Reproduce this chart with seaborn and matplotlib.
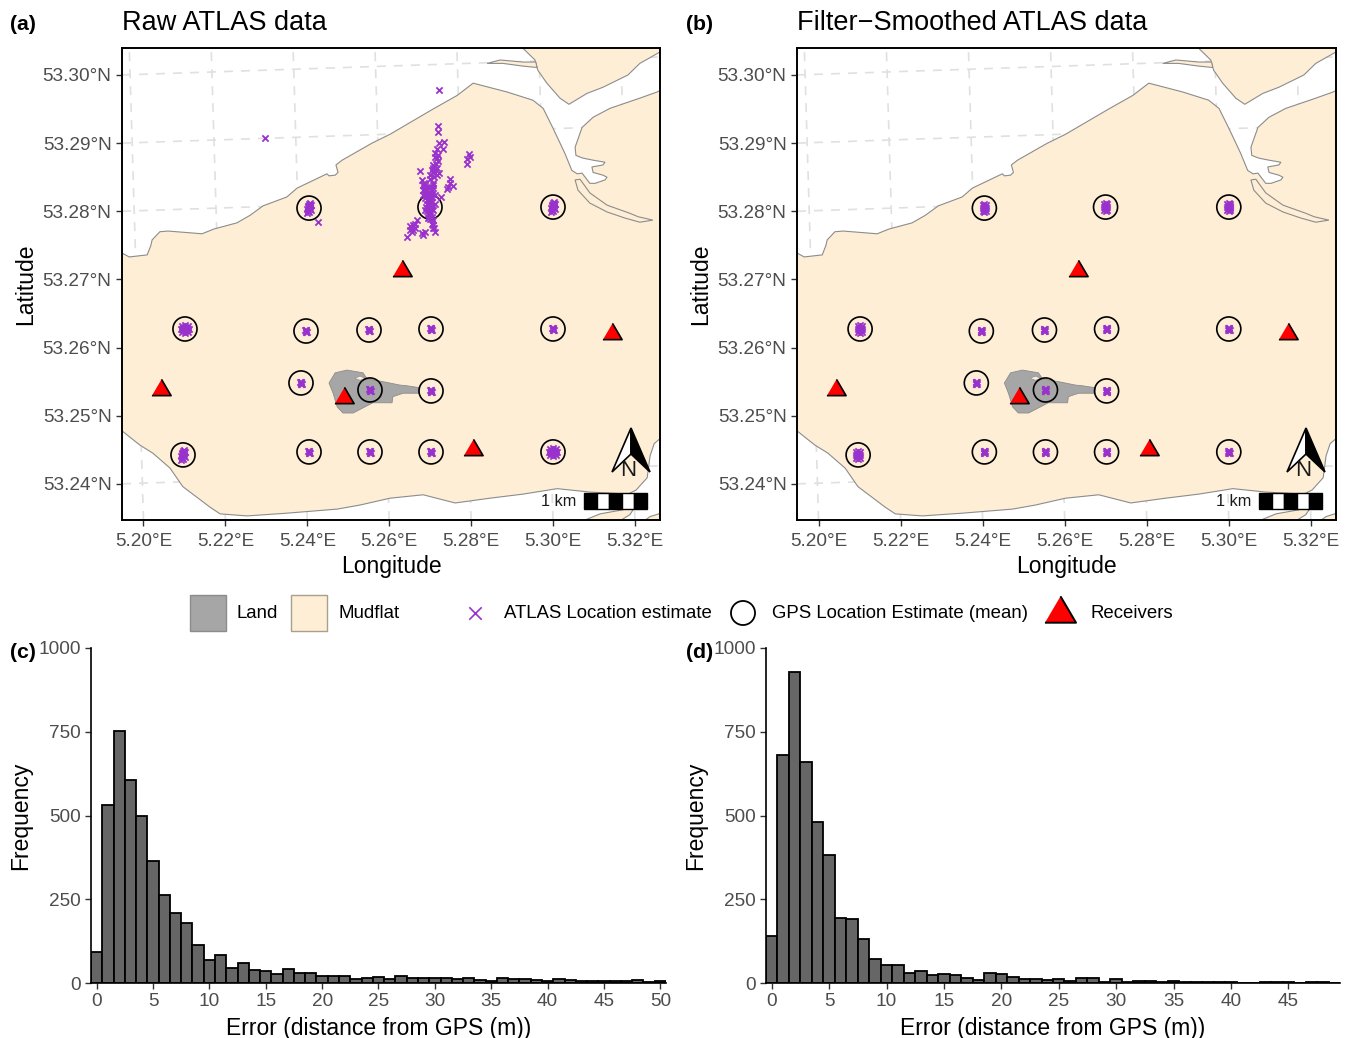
import matplotlib
matplotlib.use("Agg")
import matplotlib.pyplot as plt
from matplotlib.patches import Rectangle
import numpy as np
import seaborn as sns

# map outlines (lon, lat)
mud_lon = [5.1930, 5.1947, 5.1965, 5.2009, 5.2018, 5.2021, 5.2040, 5.2060, 5.2143, 5.2172, 5.2228, 5.2260, 5.2292,
           5.2350, 5.2375, 5.2448, 5.2453, 5.2468, 5.2475, 5.2470, 5.2485, 5.2558, 5.2602, 5.2707, 5.2766, 5.2792,
           5.2805, 5.2888, 5.2951, 5.2976, 5.3000, 5.3029, 5.3046, 5.3059, 5.3071, 5.3090, 5.3103, 5.3127, 5.3132,
           5.3122, 5.3098, 5.3095, 5.3122, 5.3127, 5.3098, 5.3073, 5.3056, 5.3054, 5.3071, 5.3098, 5.3139, 5.3212,
           5.3254, 5.3274, 5.3274, 5.3247, 5.3237, 5.3230, 5.3203, 5.3183, 5.3090, 5.3010, 5.2927, 5.2846, 5.2761,
           5.2683, 5.2602, 5.2529, 5.2473, 5.2350, 5.2253, 5.2187, 5.2162, 5.2096, 5.2065, 5.2023, 5.1991, 5.1947,
           5.1930]
mud_lat = [53.2743, 53.2739, 53.2733, 53.2736, 53.2750, 53.2758, 53.2770, 53.2771, 53.2767, 53.2774, 53.2783, 53.2794,
           53.2808, 53.2821, 53.2834, 53.2855, 53.2852, 53.2853, 53.2857, 53.2868, 53.2875, 53.2900, 53.2913, 53.2950,
           53.2970, 53.2982, 53.2988, 53.2975, 53.2963, 53.2951, 53.2922, 53.2885, 53.2860, 53.2855, 53.2856, 53.2841,
           53.2841, 53.2846, 53.2850, 53.2853, 53.2857, 53.2865, 53.2868, 53.2872, 53.2875, 53.2878, 53.2882, 53.2894,
           53.2923, 53.2938, 53.2951, 53.2966, 53.2975, 53.2981, 53.2473, 53.2459, 53.2441, 53.2409, 53.2391, 53.2385,
           53.2388, 53.2393, 53.2385, 53.2379, 53.2372, 53.2384, 53.2379, 53.2369, 53.2363, 53.2357, 53.2353, 53.2356,
           53.2366, 53.2396, 53.2423, 53.2445, 53.2457, 53.2478, 53.2485]

top_mud_lon = [5.2920, 5.2927, 5.2956, 5.2963, 5.2985, 5.3017, 5.3039, 5.3083, 5.3122, 5.3183, 5.3212, 5.3259, 5.3281, 5.3281]
top_mud_lat = [53.3051, 53.3039, 53.3022, 53.3007, 53.2988, 53.2966, 53.2957, 53.2973, 53.2982, 53.3000, 53.3017, 53.3033, 53.3045, 53.3051]
bar_lon = [5.2839, 5.2871, 5.2927, 5.2958, 5.2961, 5.2927, 5.2878]
bar_lat = [53.3017, 53.3022, 53.3019, 53.3019, 53.3011, 53.3013, 53.3017]
spit_lon = [5.3054, 5.3066, 5.3090, 5.3132, 5.3188, 5.3208, 5.3244, 5.3212, 5.3176, 5.3132, 5.3090, 5.3061]
spit_lat = [53.2846, 53.2847, 53.2827, 53.2809, 53.2797, 53.2792, 53.2787, 53.2784, 53.2790, 53.2799, 53.2812, 53.2831]
patch_s_lon = [5.3054, 5.3115, 5.3171, 5.3212, 5.3188, 5.3151]
patch_s_lat = [53.2341, 53.2356, 53.2362, 53.2377, 53.2355, 53.2341]
patch_se_lon = [5.3212, 5.3237, 5.3274, 5.3274]
patch_se_lat = [53.2341, 53.2352, 53.2359, 53.2341]

land_lon = [5.2453, 5.2468, 5.2497, 5.2536, 5.2546, 5.2585, 5.2626, 5.2643, 5.2675, 5.2673, 5.2634, 5.2609, 5.2607,
            5.2560, 5.2512, 5.2487, 5.2473, 5.2463]
land_lat = [53.2548, 53.2563, 53.2567, 53.2563, 53.2554, 53.2550, 53.2545, 53.2544, 53.2541, 53.2533, 53.2533, 53.2528,
            53.2519, 53.2519, 53.2504, 53.2504, 53.2513, 53.2533]
hole_lon = [5.2516, 5.2529, 5.2541, 5.2529]
hole_lat = [53.2555, 53.2558, 53.2555, 53.2552]

# fixed stations
gps_lon = [5.24042, 5.26996, 5.30000, 5.21013, 5.23968, 5.25507, 5.27021, 5.30000, 5.23846, 5.25531, 5.27021, 5.20965,
           5.24042, 5.25531, 5.27021, 5.30000]
gps_lat = [53.28047, 53.28062, 53.28062, 53.26273, 53.26243, 53.26258, 53.26273, 53.26273, 53.25481, 53.25378, 53.25364,
           53.24425, 53.24469, 53.24469, 53.24469, 53.24469]
rec_lon = [5.26313, 5.31441, 5.20427, 5.24896, 5.28046]
rec_lat = [53.27167, 53.26243, 53.25422, 53.25305, 53.24543]

# ATLAS clouds: which stations get which cloud shape
tight_a = [4, 5, 6, 7, 8, 9, 10, 12, 13, 14]
long_a = [0, 2, 11]
round_a = [3, 15]
tight_b = [4, 5, 6, 7, 8, 9, 10, 12, 13, 14, 15]
medium_b = [0, 1, 2, 3, 11]

tight_dlon = [-0.0002, 0.0002, 0.0, 0.0, -0.0001, 0.0001]
tight_dlat = [0.0001, -0.0001, 0.0001, -0.0001, -0.0001, 0.0001]
medium_dlon = [-0.0004, 0.0004, -0.0004, 0.0004, 0.0, 0.0, -0.0002, 0.0002, -0.0002, 0.0002, 0.0, 0.0004, -0.0004]
medium_dlat = [0.0004, 0.0004, -0.0004, -0.0004, 0.0006, -0.0006, 0.0002, 0.0002, -0.0002, -0.0002, 0.0, 0.0, 0.0]
long_dlon = [-0.0005, -0.0002, 0.0, 0.0002, 0.0005, 0.0002, -0.0005, 0.0005, -0.0002, 0.0, -0.0003, 0.0003, 0.0,
             -0.0003, 0.0003, 0.0]
long_dlat = [-0.0007, -0.0004, -0.0001, 0.0001, 0.0004, 0.0007, -0.0001, -0.0003, 0.0003, 0.0006, -0.0005, 0.0005,
             0.0003, 0.0001, -0.0001, -0.0006]
round_dlon = [-0.0007, 0.0, 0.0007, -0.001, 0.0, 0.001, -0.0007, 0.0, 0.0007, 0.0004, -0.0004, 0.0004, -0.0004, 0.0,
              0.0, 0.0007, -0.0007]
round_dlat = [0.0004, 0.0006, 0.0004, 0.0, 0.0, 0.0, -0.0004, -0.0006, -0.0004, 0.0002, 0.0002, -0.0002, -0.0002,
              0.0003, -0.0003, 0.0, 0.0]

# the scattered station in (a), plus the few strays
cloud_lon = [5.2718, 5.2720, 5.2722, 5.2735, 5.2716, 5.2731, 5.2712, 5.2720, 5.2716, 5.2708, 5.2716, 5.2722, 5.2700,
             5.2712, 5.2704, 5.2674, 5.2679, 5.2683, 5.2687, 5.2691, 5.2696, 5.2700, 5.2700, 5.2696, 5.2691, 5.2687,
             5.2683, 5.2704, 5.2708, 5.2712, 5.2712, 5.2706, 5.2704, 5.2726, 5.2748, 5.2740, 5.2755, 5.2748, 5.2744,
             5.2796, 5.2791, 5.2789, 5.2797, 5.2667, 5.2659, 5.2651, 5.2644, 5.2655, 5.2663, 5.2679, 5.2687, 5.2682,
             5.2708, 5.2708, 5.2712, 5.2704, 5.2696, 5.2700, 5.2687, 5.2693, 5.2704, 5.2698, 5.2682, 5.2691, 5.2700,
             5.2696, 5.2704, 5.2696, 5.2704, 5.2722, 5.2296, 5.2427, 5.2684, 5.2688, 5.2692, 5.2696, 5.2700, 5.2704,
             5.2708, 5.2706, 5.2692, 5.2700, 5.2696, 5.2704, 5.2692, 5.2700, 5.2696, 5.2710, 5.2716, 5.2708, 5.2714,
             5.2718, 5.2712, 5.2706, 5.2700, 5.2694, 5.2700, 5.2662, 5.2652, 5.2658, 5.2706, 5.2710]
cloud_lat = [53.2925, 53.2917, 53.2900, 53.2902, 53.2892, 53.2891, 53.2885, 53.2882, 53.2878, 53.2868, 53.2863, 53.2856,
             53.2853, 53.2856, 53.2860, 53.2859, 53.2846, 53.2838, 53.2831, 53.2824, 53.2816, 53.2809, 53.2799, 53.2792,
             53.2807, 53.2819, 53.2831, 53.2831, 53.2841, 53.2824, 53.2811, 53.2802, 53.2792, 53.2821, 53.2848, 53.2833,
             53.2837, 53.2841, 53.2835, 53.2884, 53.2876, 53.2869, 53.2880, 53.2787, 53.2780, 53.2772, 53.2763, 53.2770,
             53.2782, 53.2768, 53.2769, 53.2765, 53.2787, 53.2780, 53.2770, 53.2782, 53.2797, 53.2821, 53.2802, 53.2811,
             53.2814, 53.2826, 53.2824, 53.2831, 53.2836, 53.2828, 53.2821, 53.2804, 53.2804, 53.2978, 53.2907, 53.2784,
             53.2842, 53.2838, 53.2835, 53.2822, 53.2826, 53.2826, 53.2834, 53.2838, 53.2816, 53.2815, 53.2810, 53.2808,
             53.2800, 53.2795, 53.2795, 53.2850, 53.2853, 53.2858, 53.2870, 53.2874, 53.2880, 53.2864, 53.2847, 53.2790,
             53.2788, 53.2775, 53.2778, 53.2772, 53.2775, 53.2775]

lon_ticks = [5.20, 5.22, 5.24, 5.26, 5.28, 5.30, 5.32]
lat_ticks = [53.24, 53.25, 53.26, 53.27, 53.28, 53.29, 53.30]

# error histograms, 1 m bins starting at 0
counts_raw = [92, 530, 751, 606, 498, 365, 264, 208, 178, 112, 70, 84, 45, 61, 40, 35, 27, 42, 29, 31, 22, 22, 20, 13, 16,
              18, 12, 21, 15, 14, 14, 14, 12, 15, 8, 7, 16, 11, 11, 8, 5, 12, 9, 5, 5, 6, 7, 7, 8, 4, 6]
counts_smooth = [139, 682, 929, 660, 482, 381, 195, 191, 131, 72, 55, 55, 29, 37, 23, 26, 23, 14, 10, 29, 26, 17, 13, 12, 8,
                 12, 7, 16, 14, 2, 12, 3, 5, 5, 2, 6, 4, 3, 3, 2, 2, 1, 1, 2, 2, 3, 1, 4, 3, 1]

W, H = 1351, 1038
MUD = "#FEEED6"
LAND = "#A6A6A6"
COAST = "#8C8C8C"
PURPLE = "#9932CC"
GREY_TEXT = "#4D4D4D"
TRIANGLE = [(-1, -0.85), (1, -0.85), (0, 0.85)]

sns.set_theme(style="white")
plt.rcParams["font.family"] = ["Liberation Sans", "DejaVu Sans"]
plt.rcParams["axes.unicode_minus"] = True


def px_axes(fig, x0, y0, x1, y1):
    return fig.add_axes([x0 / W, 1 - y1 / H, (x1 - x0) / W, (y1 - y0) / H])


def spread(stations, dlon, dlat):
    xs, ys = [], []
    for i in stations:
        xs.extend(gps_lon[i] + d for d in dlon)
        ys.extend(gps_lat[i] + d for d in dlat)
    return xs, ys


def draw_map(ax, atlas_lon, atlas_lat, title):
    xlim = (5.19475, 5.32613)
    ylim = (53.2347, 53.30396)
    for lon in lon_ticks:
        ax.plot([lon, lon - 0.00347], ylim, color="#E0E0E0", lw=1.2, dashes=(5.4, 4.8), zorder=1)
    for lat in lat_ticks:
        ax.plot(xlim, [lat, lat + 0.00265], color="#E0E0E0", lw=1.2, dashes=(5.4, 4.8), zorder=1)
    for xs, ys in [(mud_lon, mud_lat), (top_mud_lon, top_mud_lat), (bar_lon, bar_lat), (spit_lon, spit_lat),
                   (patch_s_lon, patch_s_lat), (patch_se_lon, patch_se_lat)]:
        ax.fill(xs, ys, facecolor=MUD, edgecolor=COAST, lw=0.8, zorder=2)
    ax.fill(land_lon, land_lat, facecolor=LAND, edgecolor=COAST, lw=0.6, zorder=3)
    ax.fill(hole_lon, hole_lat, facecolor=MUD, edgecolor=COAST, lw=0.4, zorder=3)

    sns.scatterplot(x=gps_lon, y=gps_lat, marker="o", s=300, color="black", edgecolor="black", linewidth=1.2, ax=ax,
                    zorder=4)
    ax.collections[-1].set_facecolor("none")
    sns.scatterplot(x=atlas_lon, y=atlas_lat, marker="x", s=20, color=PURPLE, linewidth=1.3, ax=ax, zorder=5)
    sns.scatterplot(x=rec_lon, y=rec_lat, marker=TRIANGLE, s=190, color="red", edgecolor="black", linewidth=1.2,
                    ax=ax, zorder=6)

    ax.set_xlim(xlim)
    ax.set_ylim(ylim)
    ax.set_xticks(lon_ticks)
    ax.set_xticklabels([f"{v:.2f}°E" for v in lon_ticks])
    ax.set_yticks(lat_ticks)
    ax.set_yticklabels([f"{v:.2f}°N" for v in lat_ticks])
    ax.tick_params(length=4, width=1, color="#333333", labelsize=13.7, labelcolor=GREY_TEXT, pad=3.5,
                   bottom=True, left=True)
    ax.tick_params(axis="x", pad=5)
    ax.set_xlabel("Longitude", fontsize=16.5, color="black", labelpad=4)
    ax.set_ylabel("Latitude", fontsize=16.5, color="black", labelpad=4)
    ax.set_title(title, loc="left", fontsize=19.5, color="black", pad=13)
    for s in ax.spines.values():
        s.set_visible(True)
        s.set_color("black")
        s.set_linewidth(1.4)
    ax.grid(False)


def draw_hist(ax, counts, xticks, xmax):
    values = np.arange(len(counts))
    edges = list(np.arange(len(counts) + 1) - 0.5)
    sns.histplot(x=values, weights=counts, bins=edges, color="#666666", edgecolor="black", linewidth=1.3, alpha=1,
                 ax=ax)
    ax.set_xlim(-0.5, xmax)
    ax.set_ylim(0, 1000)
    ax.set_xticks(xticks)
    ax.set_yticks([0, 250, 500, 750, 1000])
    ax.tick_params(length=4, width=1, color="#333333", labelsize=13.7, labelcolor=GREY_TEXT, pad=3.5,
                   bottom=True, left=True)
    ax.set_xlabel("Error (distance from GPS (m))", fontsize=16.5, color="black", labelpad=4.5)
    ax.set_ylabel("Frequency", fontsize=16.5, color="black", labelpad=4)
    sns.despine(ax=ax)
    for side in ["left", "bottom"]:
        ax.spines[side].set_color("black")
        ax.spines[side].set_linewidth(1.2)
    ax.grid(False)


fig = plt.figure(figsize=(W / 100, H / 100), dpi=100, facecolor="white")

ax_a = px_axes(fig, 122, 48, 660, 520)
ax_b = px_axes(fig, 797, 48, 1336, 520)
ax_c = px_axes(fig, 91, 648, 666, 983)
ax_d = px_axes(fig, 766, 648, 1340, 983)

xa, ya = list(cloud_lon), list(cloud_lat)
for group, dx, dy in [(tight_a, tight_dlon, tight_dlat), (long_a, long_dlon, long_dlat), (round_a, round_dlon, round_dlat)]:
    gx, gy = spread(group, dx, dy)
    xa += gx
    ya += gy
xb, yb = [], []
for group, dx, dy in [(tight_b, tight_dlon, tight_dlat), (medium_b, medium_dlon, medium_dlat)]:
    gx, gy = spread(group, dx, dy)
    xb += gx
    yb += gy

draw_map(ax_a, xa, ya, "Raw ATLAS data")
draw_map(ax_b, xb, yb, "Filter\u2212Smoothed ATLAS data")
draw_hist(ax_c, counts_raw, list(range(0, 51, 5)), 50.5)
draw_hist(ax_d, counts_smooth, list(range(0, 46, 5)), 49.5)

# overlay in pixel units for legend, north arrows and scale bars
ov = fig.add_axes([0, 0, 1, 1], facecolor="none")
ov.set_xlim(0, W)
ov.set_ylim(H, 0)
ov.axis("off")

for off in [0, 675]:
    ov.fill([631 + off, 612 + off, 631 + off], [428, 472, 454], facecolor="white", edgecolor="black", lw=1.2)
    ov.fill([631 + off, 650 + off, 631 + off], [428, 472, 454], facecolor="black", edgecolor="black", lw=1.2)
    ov.text(628 + off, 471, "N", fontsize=16, ha="center", va="center", color="#1A1A1A")
    ov.text(576 + off, 501, "1 km", fontsize=11.7, ha="right", va="center", color="#1A1A1A")
    for i in range(5):
        ov.add_patch(Rectangle((584 + off + i * 12.6, 493), 12.6, 16, facecolor="black" if i % 2 == 0 else "white",
                               edgecolor="black", lw=1))

for x, y, tag in [(10, 24, "(a)"), (686, 24, "(b)"), (10, 653, "(c)"), (686, 653, "(d)")]:
    ov.text(x, y, tag, fontsize=15.3, fontweight="bold", ha="left", va="center", color="black")

ov.add_patch(Rectangle((190, 595), 36, 36, facecolor=LAND, edgecolor="#8C8C8C", lw=1))
ov.add_patch(Rectangle((291, 595), 36, 36, facecolor=MUD, edgecolor="#A8A08F", lw=1))
ov.text(237, 614, "Land", fontsize=13.4, va="center", color="black")
ov.text(338, 614, "Mudflat", fontsize=13.4, va="center", color="black")
sns.scatterplot(x=[475], y=[613], marker="x", s=80, color=PURPLE, linewidth=1.2, ax=ov)
ov.text(504, 614, "ATLAS Location estimate", fontsize=13.4, va="center", color="black")
sns.scatterplot(x=[743], y=[613], marker="o", s=300, color="black", edgecolor="black", linewidth=1.3, ax=ov)
ov.collections[-1].set_facecolor("none")
ov.text(772, 614, "GPS Location Estimate (mean)", fontsize=13.4, va="center", color="black")
sns.scatterplot(x=[1060], y=[609], marker=TRIANGLE, s=500, color="red", edgecolor="black", linewidth=1.4, ax=ov)
ov.text(1090, 614, "Receivers", fontsize=13.4, va="center", color="black")
ov.set_xlim(0, W)
ov.set_ylim(H, 0)

fig.savefig("out.png", dpi=100)
